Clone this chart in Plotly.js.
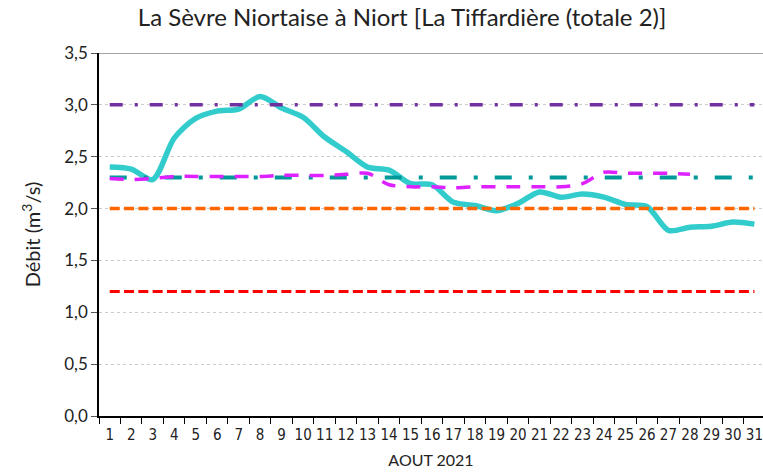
<!DOCTYPE html>
<html>
<head>
<meta charset="utf-8">
<script src="https://cdn.plot.ly/plotly-3.0.1.min.js"></script>
<style>
  html, body { margin: 0; padding: 0; background: #fff; }
  #chart { width: 763px; height: 475px; }
</style>
</head>
<body>
<div id="chart"></div>
<script>
// days of August 2021
var jours = [];
for (var i = 1; i <= 31; i++) jours.push(String(i));

// measured flow (m3/s)
var debit = [2.40, 2.38, 2.28, 2.68, 2.87, 2.94, 2.96, 3.08, 2.97, 2.88,
             2.69, 2.55, 2.40, 2.37, 2.24, 2.23, 2.06, 2.03, 1.98, 2.05,
             2.16, 2.11, 2.14, 2.11, 2.04, 2.02, 1.79, 1.82, 1.83, 1.87, 1.85];

// second varying series (magenta dashed), stops at day 28
var serie2 = [2.29, 2.28, 2.29, 2.31, 2.31, 2.31, 2.31, 2.31, 2.32, 2.32,
              2.32, 2.33, 2.34, 2.23, 2.21, 2.21, 2.20, 2.21, 2.21, 2.21,
              2.21, 2.21, 2.24, 2.35, 2.34, 2.34, 2.34, 2.33];

// threshold levels
var seuilViolet = 3.0;
var seuilTeal = 2.3;
var seuilOrange = 2.0;
var seuilRouge = 1.2;

function constant(v) { return jours.map(function () { return v; }); }

var traceDebit = {
  x: jours, y: debit, mode: 'lines', name: 'Débit',
  line: { color: '#33CCCC', width: 5.5, shape: 'spline', smoothing: 0.8 }
};
var traceViolet = {
  x: jours, y: constant(seuilViolet), mode: 'lines',
  line: { color: '#7030A0', width: 3.5, dash: '13px,12px,3px,12px' }
};
var traceTeal = {
  x: jours, y: constant(seuilTeal), mode: 'lines',
  line: { color: '#009999', width: 4, dash: '17px,17px,4px,17px' }
};
var traceMagenta = {
  x: jours.slice(0, serie2.length), y: serie2, mode: 'lines',
  line: { color: '#DD22FF', width: 3.5, dash: '14px,11px', shape: 'spline', smoothing: 0.8 }
};
var traceOrange = {
  x: jours, y: constant(seuilOrange), mode: 'lines',
  line: { color: '#FF6600', width: 3.5, dash: '10px,4.3px' }
};
var traceRouge = {
  x: jours, y: constant(seuilRouge), mode: 'lines',
  line: { color: '#FF0000', width: 3, dash: '10px,4.3px' }
};

var data = [traceDebit, traceViolet, traceTeal, traceMagenta, traceOrange, traceRouge];

var layout = {
  width: 763, height: 475,
  font: { family: 'Lato, sans-serif', color: '#222' },
  separators: ',.',
  showlegend: false,
  margin: { l: 99, r: 0, t: 53, b: 59 },
  paper_bgcolor: '#fff', plot_bgcolor: '#fff',
  title: {
    text: 'La Sèvre Niortaise à Niort [La Tiffardière (totale 2)]',
    font: { size: 24, color: '#222' },
    x: 0.527, xanchor: 'center', y: 0.962, yanchor: 'middle'
  },
  xaxis: {
    type: 'category',
    range: [-0.5, 30.4],
    tickson: 'boundaries',
    tickangle: 0,
    ticks: 'outside', ticklen: 6, tickcolor: '#000',
    ticklabelstandoff: 4,
    showline: true, linecolor: '#000', linewidth: 1.5,
    showgrid: false,
    tickfont: { family: '"Liberation Sans Narrow", "DejaVu Sans Condensed", sans-serif', size: 15, color: '#222' },
    title: { text: 'AOUT 2021', font: { size: 16, color: '#222' }, standoff: 12 }
  },
  yaxis: {
    range: [0, 3.5],
    dtick: 0.5, tickformat: '.1f',
    ticks: 'outside', ticklen: 6, tickcolor: '#555',
    showline: true, linecolor: '#000', linewidth: 1.5,
    showgrid: true, gridcolor: '#cccccc', griddash: 'dot', gridwidth: 1,
    zeroline: false,
    tickfont: { size: 17, color: '#222' },
    title: { text: 'Débit (m<sup>3</sup>/s)', font: { size: 20, color: '#222' }, standoff: 18 }
  },
  shapes: [{
    type: 'line', xref: 'paper', yref: 'y', x0: 0, x1: 1, y0: 3.5, y1: 3.5,
    line: { color: '#888', width: 1.5 }
  }]
};

Plotly.newPlot('chart', data, layout, { displayModeBar: false });
</script>
</body>
</html>
